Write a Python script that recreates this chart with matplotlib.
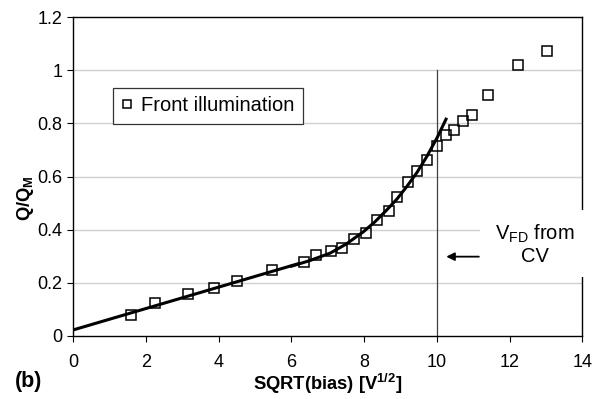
import matplotlib.pyplot as plt
from matplotlib.patches import Rectangle

plt.rcParams['font.family'] = 'Liberation Sans'
plt.rcParams['mathtext.fontset'] = 'custom'
plt.rcParams['mathtext.rm'] = 'Liberation Sans'
plt.rcParams['mathtext.bf'] = 'Liberation Sans:bold'

# measured points (front illumination)
sqrt_bias = [1.59, 2.25, 3.16, 3.87, 4.49, 5.46, 6.34, 6.67, 7.10, 7.39, 7.72,
             8.04, 8.36, 8.67, 8.91, 9.20, 9.46, 9.73, 9.99, 10.25, 10.47,
             10.73, 10.96, 11.40, 12.23, 13.02]
q_ratio = [0.078, 0.122, 0.158, 0.181, 0.206, 0.249, 0.278, 0.303, 0.320,
           0.332, 0.363, 0.388, 0.436, 0.471, 0.524, 0.579, 0.622, 0.663,
           0.715, 0.757, 0.775, 0.809, 0.833, 0.906, 1.020, 1.074]

# fit lines
lin_x = [0.05, 6.2]
lin_y = [0.024, 0.272]
curve_x = [6.0, 6.5, 7.06, 7.5, 7.98, 8.3, 8.62, 8.9, 9.17, 9.45, 9.72, 10.0, 10.25]
curve_y = [0.262, 0.283, 0.311, 0.345, 0.392, 0.43, 0.474, 0.515, 0.562, 0.615,
           0.675, 0.745, 0.816]

v_fd = 10

fig = plt.figure(figsize=(6.04, 3.99), dpi=100)
ax = fig.add_axes([0.1214, 0.1586, 0.8428, 0.798])

for g in [0.2, 0.4, 0.6, 0.8, 1.0]:
    ax.axhline(g, color='#d0d0d0', lw=1.0, zorder=0)

ax.plot(lin_x, lin_y, color='black', lw=2.2, zorder=3)
ax.plot(curve_x, curve_y, color='black', lw=2.2, zorder=3)
ax.plot(sqrt_bias, q_ratio, ls='none', marker='s', ms=7.5, mfc='none',
        mec='black', mew=1.1, label='Front illumination', zorder=4)

ax.plot([v_fd, v_fd], [0, 1.0], color='#404040', lw=0.9, zorder=2)
ax.annotate('', xy=(10.18, 0.298), xytext=(11.23, 0.298),
            arrowprops=dict(arrowstyle='-|>', color='black', lw=1.3,
                            mutation_scale=12))

# white box behind the annotation text (hides grid and right frame there)
ax.add_patch(Rectangle((11.19, 0.221), 3.3, 0.252, facecolor='white',
                       edgecolor='none', zorder=8, clip_on=False))
ax.text(12.7, 0.345, 'V$_{\\mathrm{FD}}$ from\nCV', ha='center', va='center',
        fontsize=14.5, linespacing=1.15, zorder=10, clip_on=False)

ax.set_xlim(0, 14)
ax.set_ylim(0, 1.2)
ax.set_xticks(range(0, 15, 2))
ax.set_yticks([0, 0.2, 0.4, 0.6, 0.8, 1.0, 1.2])
ax.set_yticklabels(['0', '0.2', '0.4', '0.6', '0.8', '1', '1.2'])
ax.tick_params(axis='x', direction='out', length=4, labelsize=13, pad=9)
ax.tick_params(axis='y', direction='out', length=4, labelsize=13, pad=4)
for s in ax.spines.values():
    s.set_linewidth(1.0)

ax.set_xlabel('SQRT(bias) [V$^{\\mathbf{1/2}}$]', fontsize=13.2,
              fontweight='bold', labelpad=1)
fig.text(0.043, 0.504, '$\\mathbf{Q/Q_M}$', rotation=90, ha='center',
         va='center', fontsize=13.2)
fig.text(0.048, 0.043, '(b)', ha='center', va='center', fontsize=15.5,
         fontweight='bold')

leg = ax.legend(loc='upper left', bbox_to_anchor=(0.0786, 0.778),
                borderaxespad=0, fancybox=False, edgecolor='#333333',
                framealpha=1, fontsize=14.5, handlelength=0.5,
                handletextpad=0.45, borderpad=0.42, markerscale=0.85)
leg.get_frame().set_linewidth(0.9)

fig.savefig('out.png', dpi=100)
